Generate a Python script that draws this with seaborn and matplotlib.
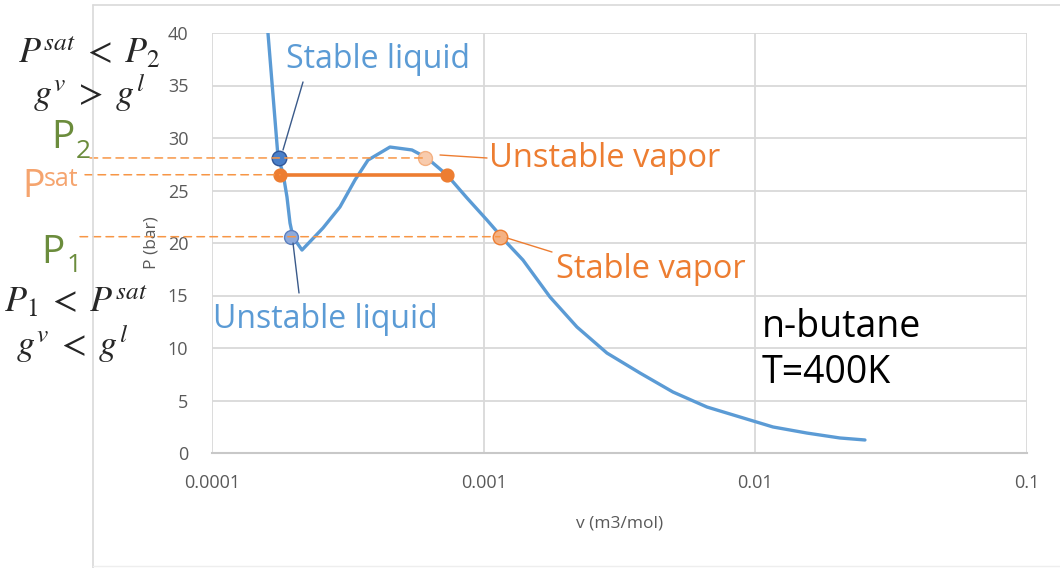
import matplotlib
matplotlib.use("Agg")
import matplotlib.pyplot as plt
import seaborn as sns
import pandas as pd
from matplotlib.patches import ConnectionPatch
from matplotlib.transforms import blended_transform_factory
from matplotlib.lines import Line2D

# ---------------- data ----------------
v_curve = [1.607e-4, 1.706e-4, 1.750e-4, 1.825e-4, 1.888e-4, 1.937e-4, 1.987e-4,
           2.144e-4, 2.562e-4, 2.958e-4, 3.360e-4, 3.752e-4, 4.520e-4, 5.446e-4,
           6.184e-4, 7.328e-4, 8.681e-4, 1.028e-3, 1.218e-3, 1.395e-3, 1.754e-3,
           2.205e-3, 2.843e-3, 3.761e-3, 4.974e-3, 6.636e-3, 8.776e-3, 1.161e-2,
           1.549e-2, 2.048e-2, 2.532e-2]
p_curve = [40.0, 31.71, 28.19, 26.67, 24.38, 21.90, 20.57,
           19.33, 21.43, 23.43, 26.0, 27.90, 29.14, 28.86,
           28.10, 26.48, 24.29, 22.19, 20.0, 18.38, 14.86,
           12.0, 9.52, 7.62, 5.81, 4.38, 3.43, 2.48,
           1.90, 1.43, 1.24]

psat = 26.5
p2 = 28.1
p1 = 20.6
v_sat_liq, v_sat_vap = 1.78e-4, 7.33e-4
v_stable_liq = 1.766e-4
v_unstable_liq = 1.953e-4
v_unstable_vap = 6.08e-4
v_stable_vap = 1.148e-3

x_ticks = [1e-4, 1e-3, 1e-2, 1e-1]
x_ticklabels = ["0.0001", "0.001", "0.01", "0.1"]
y_ticks = [0, 5, 10, 15, 20, 25, 30, 35, 40]

# ---------------- style ----------------
sns.set_style("white")
plt.rcParams['font.family'] = ['Open Sans', 'DejaVu Sans']
plt.rcParams['mathtext.fontset'] = 'stix'

W, H = 1060, 568
fig = plt.figure(figsize=(W / 100, H / 100), dpi=100)
ax = fig.add_axes([212 / W, 1 - 453 / H, (1027 - 212) / W, (453 - 33) / H])

BLUE = '#5b9bd5'
ORANGE = '#ed7d31'
GRAY = '#595959'
GRID = '#d9d9d9'

df = pd.DataFrame({'v': v_curve, 'P': p_curve})
sns.lineplot(data=df, x='v', y='P', sort=False, estimator=None, ax=ax,
             color=BLUE, lw=2.4, zorder=3)
ax.lines[-1].set_solid_joinstyle('round')

ax.set_xscale('log')
ax.set_xlim(1e-4, 1e-1)
ax.set_ylim(0, 40)
ax.set_xticks(x_ticks)
ax.set_xticklabels(x_ticklabels)
ax.set_yticks(y_ticks)
ax.minorticks_off()
ax.tick_params(axis='both', length=0, labelsize=13, labelcolor=GRAY)
ax.tick_params(axis='y', pad=17)
ax.tick_params(axis='x', pad=15)
ax.grid(True, color=GRID, lw=1.3)
ax.set_axisbelow(True)
for s in ['top', 'right', 'left']:
    ax.spines[s].set_visible(False)
ax.spines['bottom'].set_color('#c8c8c8')
ax.spines['bottom'].set_linewidth(1.5)
ax.set_xlabel('v (m3/mol)', fontsize=12.5, color=GRAY, labelpad=17)
ax.set_ylabel('P (bar)', fontsize=12.5, color=GRAY, labelpad=6)

# Psat tie line
sns.lineplot(x=[v_sat_liq, v_sat_vap], y=[psat, psat], ax=ax, color=ORANGE,
             lw=2.6, zorder=4)

# dashed guide lines from left margin
bt = blended_transform_factory(fig.transFigure, ax.transData)
for xstart, yv, xend in [(90, p2, v_unstable_vap), (85, psat, v_sat_liq),
                         (80, p1, v_stable_vap)]:
    cp = ConnectionPatch(xyA=(xstart / W, yv), coordsA=bt,
                         xyB=(xend, yv), coordsB=ax.transData,
                         color='#f79646', lw=1.1, ls=(0, (5, 3.5)), zorder=2)
    fig.add_artist(cp)

# markers
pts = pd.DataFrame({
    'v': [v_stable_liq, v_sat_liq, v_sat_vap, v_unstable_liq, v_unstable_vap, v_stable_vap],
    'P': [p2, psat, psat, p1, p2, p1],
})
fills = ['#4a7fc8', ORANGE, ORANGE, '#8eaadb', '#f8cbad', '#f4b183']
edges = ['#2f5597', ORANGE, ORANGE, '#5b7fbf', '#f4b183', '#ed7d31']
sizes = [110, 85, 85, 100, 100, 110]
for i in range(len(pts)):
    sns.scatterplot(x=[pts.v[i]], y=[pts.P[i]], ax=ax, s=sizes[i], color=fills[i],
                    edgecolor=edges[i], linewidth=1.0, zorder=6, legend=False)


# leader lines (figure pixel coords)
def fx(px):
    return px / W


def fy(py):
    return 1 - py / H


def leader(x0, y0, x1, y1, color):
    fig.add_artist(Line2D([fx(x0), fx(x1)], [fy(y0), fy(y1)], color=color, lw=1.0, zorder=7))


leader(283, 150, 303, 82, '#3a5a8a')
leader(293, 243, 299, 293, '#3a5a8a')
leader(440, 155, 487, 158, ORANGE)
leader(507, 238, 552, 252, ORANGE)

# annotation texts
fig.text(fx(286), fy(68), 'Stable liquid', color=BLUE, fontsize=23, va='baseline')
fig.text(fx(213), fy(328), 'Unstable liquid', color=BLUE, fontsize=23, va='baseline')
fig.text(fx(489), fy(167), 'Unstable vapor', color=ORANGE, fontsize=23.5, va='baseline')
fig.text(fx(556), fy(278), 'Stable vapor', color=ORANGE, fontsize=23.5, va='baseline')
fig.text(fx(762), fy(337), 'n-butane', color='black', fontsize=27, va='baseline')
fig.text(fx(762), fy(383), 'T=400K', color='black', fontsize=27, va='baseline')

# left side math
fig.text(fx(18), fy(63), r'$P^{sat}\;<\;P_2$', fontsize=26, va='baseline')
fig.text(fx(33), fy(104), r'$g^{v}\;>\;g^{l}$', fontsize=26, va='baseline')
fig.text(fx(4), fy(312), r'$P_1\;<\;P^{sat}$', fontsize=26, va='baseline')
fig.text(fx(16), fy(355), r'$g^{v}\;<\;g^{l}$', fontsize=26, va='baseline')

OLIVE = '#6b8c3c'
LORANGE = '#f5a46e'
fig.text(fx(51), fy(148), 'P', color=OLIVE, fontsize=28, va='baseline')
fig.text(fx(76), fy(158), '2', color=OLIVE, fontsize=19, va='baseline')
fig.text(fx(41), fy(263), 'P', color=OLIVE, fontsize=28, va='baseline')
fig.text(fx(67), fy(272), '1', color=OLIVE, fontsize=19, va='baseline')
fig.text(fx(22), fy(197), 'P', color=LORANGE, fontsize=27, va='baseline')
fig.text(fx(44), fy(186), 'sat', color=LORANGE, fontsize=18, va='baseline')

# outer chart frame
fig.add_artist(Line2D([fx(93), fx(93)], [fy(5), fy(568)], color=GRID, lw=1.2))
fig.add_artist(Line2D([fx(93), 1.0], [fy(5), fy(5)], color=GRID, lw=1.2))
fig.add_artist(Line2D([fx(93), 1.0], [fy(566), fy(566)], color='#eeeeee', lw=1.0))

fig.savefig('out.png', dpi=100)
